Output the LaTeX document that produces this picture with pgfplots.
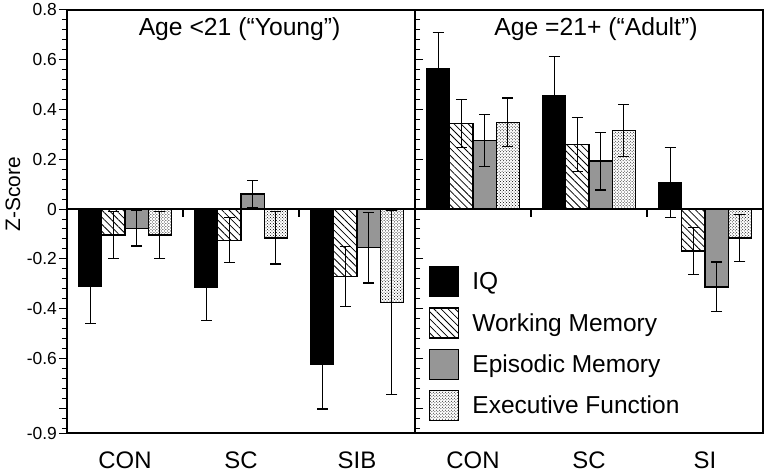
\documentclass[border=0pt]{standalone}
\usepackage{pgfplots}
\pgfplotsset{compat=1.18}
\usepackage{fontspec}
\setmainfont{Liberation Sans}
\usetikzlibrary{patterns,patterns.meta}
\definecolor{emgray}{RGB}{150,150,150}

\pgfplotsset{
  panel/.style={
    scale only axis, width=348bp, height=423bp,
    xmin=-0.5, xmax=2.5, ymin=-0.9, ymax=0.8,
    axis line style={line width=1.2bp},
    xtick={0,1,2},
    major x tick style={draw=none},
    xticklabel style={font=\fontsize{24}{24}\selectfont, anchor=base, yshift=-27bp},
  },
  myleg/.style={legend image code/.code={\draw[##1] (0bp,-15bp) rectangle (29bp,15bp); \path (40bp,0bp);}},
  eb/.style={error bars/.cd, y dir=both, y explicit,
     error bar style={line width=1.3bp, black, solid},
     error mark options={rotate=90, mark size=5.5bp, line width=1.3bp, black}},
  iq/.style={ybar, bar width=0.2, bar shift=0pt, draw=black, line width=1.3bp, fill=black, myleg, eb},
  wm/.style={ybar, bar width=0.2, bar shift=0pt, draw=black, line width=1.3bp,
     pattern={Lines[angle=-45,distance=5bp,line width=0.8bp]}, pattern color=black, myleg, eb},
  em/.style={ybar, bar width=0.2, bar shift=0pt, draw=black, line width=1.3bp, fill=emgray, myleg, eb},
  ef/.style={ybar, bar width=0.2, bar shift=0pt, draw=black, line width=1.3bp,
     pattern=crosshatch dots, pattern color=black, myleg, eb},
}

\begin{document}
\begin{tikzpicture}[x=1bp,y=1bp]
% left panel: Age < 21
\begin{axis}[panel, at={(67bp,43bp)}, anchor=south west,
  xticklabels={CON,SC,SIB},
  ytick={-0.9,-0.8,-0.6,-0.4,-0.2,0,0.2,0.4,0.6,0.8},
  yticklabels={-0.9,,-0.6,-0.4,-0.2,0,0.2,0.4,0.6,0.8},
  minor ytick={-0.88,-0.84,-0.76,-0.72,-0.68,-0.64,-0.56,-0.52,-0.48,-0.44,-0.36,-0.32,-0.28,-0.24,-0.16,-0.12,-0.08,-0.04,0.04,0.08,0.12,0.16,0.24,0.28,0.32,0.36,0.44,0.48,0.52,0.56,0.64,0.68,0.72,0.76},
  tick align=outside,
  major y tick style={line width=1bp, black},
  minor y tick style={line width=1bp, black},
  major tick length=8bp, minor tick length=5bp,
  yticklabel style={font=\fontsize{17.5}{17.5}\selectfont, inner xsep=2bp},
]
\addplot[iq] coordinates {(-0.3,-0.311) +- (0,0.148) (0.7,-0.316) +- (0,0.132) (1.7,-0.624) +- (0,0.180)};
\addplot[wm] coordinates {(-0.1,-0.104) +- (0,0.095) (0.9,-0.125) +- (0,0.090) (1.9,-0.271) +- (0,0.120)};
\addplot[em] coordinates {(0.1,-0.077) +- (0,0.072) (1.1,0.061) +- (0,0.055) (2.1,-0.155) +- (0,0.142)};
\addplot[ef] coordinates {(0.3,-0.104) +- (0,0.095) (1.3,-0.116) +- (0,0.105) (2.3,-0.376) +- (0,0.370)};
\draw[line width=1.2bp] (axis cs:-0.5,0) -- (axis cs:2.5,0);
\draw[line width=1.1bp] (axis cs:0.5,0) -- ++(0pt,-8bp);
\draw[line width=1.1bp] (axis cs:1.5,0) -- ++(0pt,-8bp);
\node[anchor=base, font=\fontsize{24.8}{25}\selectfont, yshift=-26bp] at (rel axis cs:0.496,1) {Age <21 (“Young”)};
\end{axis}
% right panel: Age >= 21
\begin{axis}[panel, at={(415bp,43bp)}, anchor=south west,
  xticklabels={CON,SC,SI},
  ytick=\empty,
  tick align=outside, major tick length=8bp,
  legend style={at={(axis description cs:0.04,0.395)}, anchor=north west, draw=none, fill=none,
     font=\fontsize{24.6}{26}\selectfont, row sep=10bp, inner sep=0pt},
  legend cell align=left,
]
\addplot[iq] coordinates {(-0.3,0.564) +- (0,0.145) (0.7,0.455) +- (0,0.159) (1.7,0.107) +- (0,0.141)};
\addplot[wm] coordinates {(-0.1,0.343) +- (0,0.097) (0.9,0.260) +- (0,0.108) (1.9,-0.168) +- (0,0.095)};
\addplot[em] coordinates {(0.1,0.276) +- (0,0.105) (1.1,0.193) +- (0,0.116) (2.1,-0.313) +- (0,0.100)};
\addplot[ef] coordinates {(0.3,0.349) +- (0,0.097) (1.3,0.316) +- (0,0.105) (2.3,-0.116) +- (0,0.094)};
\legend{IQ, Working Memory, Episodic Memory, Executive Function}
\draw[line width=1.2bp] (axis cs:-0.5,0) -- (axis cs:2.5,0);
\draw[line width=1.1bp] (axis cs:0.5,0) -- ++(0pt,-8bp);
\draw[line width=1.1bp] (axis cs:1.5,0) -- ++(0pt,-8bp);
\node[anchor=base, font=\fontsize{24.8}{25}\selectfont, yshift=-26bp] at (rel axis cs:0.520,1) {Age =21+ (“Adult”)};
\end{axis}
\node[rotate=90, font=\fontsize{21}{21}\selectfont] at (13bp,282bp) {Z-Score};
\pgfresetboundingbox
\path[use as bounding box] (0,0) rectangle (771bp,476bp);
\end{tikzpicture}
\end{document}
